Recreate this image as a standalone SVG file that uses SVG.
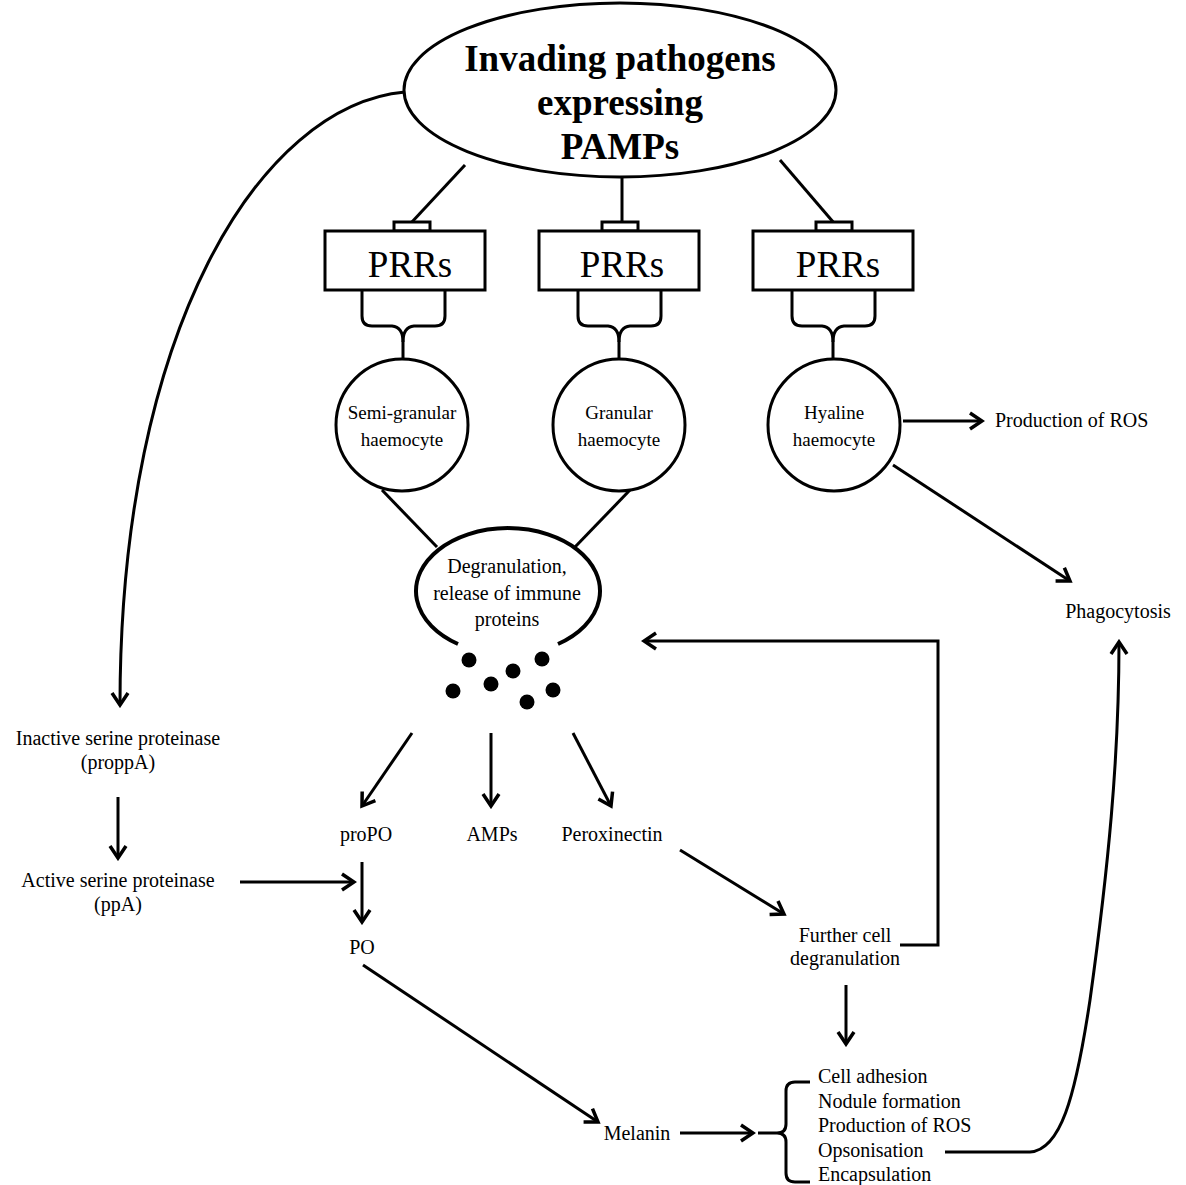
<svg xmlns="http://www.w3.org/2000/svg" width="1186" height="1185" viewBox="0 0 1186 1185">
<defs>
<style>
text{font-family:"Liberation Serif","Times New Roman",serif;fill:#000}
.t{font-size:20px;text-anchor:middle}
.c{font-size:19px;text-anchor:middle}
.tl{font-size:20px}
.big{font-size:37px;font-weight:bold;text-anchor:middle}
.prr{font-size:37px;text-anchor:middle}
.s{fill:none;stroke:#000;stroke-width:3}
.a{fill:none;stroke:#000;stroke-width:3;marker-end:url(#ah)}
.box{fill:#fff;stroke:#000;stroke-width:3}
.dot{fill:#000}
</style>
<marker id="ah" markerUnits="userSpaceOnUse" markerWidth="20" markerHeight="20" viewBox="0 0 20 20" refX="17" refY="10" orient="auto">
<path d="M5,2 L17,10 L5,18" fill="none" stroke="#000" stroke-width="3.5"/>
</marker>
</defs>
<rect width="1186" height="1185" fill="#fff"/>

<g id="connectors">
<line class="s" x1="465" y1="165" x2="411" y2="223"/>
<line class="s" x1="622" y1="176" x2="622" y2="223"/>
<line class="s" x1="780" y1="160" x2="834" y2="223"/>
<path class="s" d="M362,291 V316 Q362,326 372,326 H392 Q403,327 403,342 V360"/>
<path class="s" d="M445,291 V316 Q445,326 435,326 H414 Q403,327 403,342"/>
<path class="s" d="M578,291 V316 Q578,326 588,326 H608 Q619,327 619,342 V360"/>
<path class="s" d="M661,291 V316 Q661,326 651,326 H630 Q619,327 619,342"/>
<path class="s" d="M792,291 V316 Q792,326 802,326 H822 Q833,327 833,342 V360"/>
<path class="s" d="M875,291 V316 Q875,326 865,326 H844 Q833,327 833,342"/>
<line class="s" x1="382" y1="490" x2="437" y2="547"/>
<line class="s" x1="630" y1="490" x2="575" y2="547"/>
<line class="a" x1="903" y1="421" x2="982" y2="421"/>
<line class="a" x1="893" y1="465" x2="1070" y2="581"/>
<path class="a" d="M405,92 C260,105 120,330 120,705"/>
<line class="a" x1="412" y1="733" x2="362" y2="806"/>
<line class="a" x1="491" y1="733" x2="491" y2="806"/>
<line class="a" x1="573" y1="733" x2="611" y2="806"/>
<line class="a" x1="362" y1="862" x2="362" y2="922"/>
<line class="a" x1="118" y1="797" x2="118" y2="858"/>
<line class="a" x1="240" y1="882" x2="354" y2="882"/>
<line class="a" x1="680" y1="850" x2="784" y2="914"/>
<path class="a" d="M900,945 H938 V641 H644"/>
<line class="a" x1="846" y1="985" x2="846" y2="1044"/>
<line class="a" x1="363" y1="965" x2="598" y2="1122"/>
<line class="a" x1="680" y1="1133" x2="753" y2="1133"/>
<path class="s" d="M810,1082 H795 Q786,1082 786,1091 V1124 Q786,1133 777,1133 H758 M777,1133 Q786,1133 786,1142 V1173 Q786,1182 795,1182 H810"/>
<path class="a" d="M945,1152 H1030 C1060,1150 1075,1100 1090,1000 C1108,870 1119,760 1119,642"/>
</g>

<g id="pathogens">
<ellipse class="box" cx="620" cy="90" rx="216" ry="87"/>
<text class="big" x="620" y="71">Invading pathogens</text>
<text class="big" x="620" y="115">expressing</text>
<text class="big" x="620" y="159">PAMPs</text>
</g>

<g id="prr1">
<rect class="box" x="394" y="222" width="36" height="9"/>
<rect class="box" x="325" y="231" width="160" height="59"/>
<text class="prr" x="410" y="277">PRRs</text>
</g>
<g id="prr2">
<rect class="box" x="602" y="222" width="36" height="9"/>
<rect class="box" x="539" y="231" width="160" height="59"/>
<text class="prr" x="622" y="277">PRRs</text>
</g>
<g id="prr3">
<rect class="box" x="816" y="222" width="36" height="9"/>
<rect class="box" x="753" y="231" width="160" height="59"/>
<text class="prr" x="838" y="277">PRRs</text>
</g>

<g id="semi">
<circle class="box" cx="402" cy="425" r="66"/>
<text class="c" x="402" y="419">Semi-granular</text>
<text class="c" x="402" y="446">haemocyte</text>
</g>
<g id="granular">
<circle class="box" cx="619" cy="425" r="66"/>
<text class="c" x="619" y="419">Granular</text>
<text class="c" x="619" y="446">haemocyte</text>
</g>
<g id="hyaline">
<circle class="box" cx="834" cy="425" r="66"/>
<text class="c" x="834" y="419">Hyaline</text>
<text class="c" x="834" y="446">haemocyte</text>
</g>

<g id="degranulation">
<path d="M458,644 A92 63 0 1 1 558,644" fill="#fff" stroke="#000" stroke-width="4"/>
<text class="t" x="507" y="573">Degranulation,</text>
<text class="t" x="507" y="600">release of immune</text>
<text class="t" x="507" y="626">proteins</text>
<circle class="dot" cx="469" cy="660" r="7.5"/>
<circle class="dot" cx="513" cy="671" r="7.5"/>
<circle class="dot" cx="542" cy="659" r="7.5"/>
<circle class="dot" cx="453" cy="691" r="7.5"/>
<circle class="dot" cx="491" cy="684" r="7.5"/>
<circle class="dot" cx="553" cy="690" r="7.5"/>
<circle class="dot" cx="527" cy="702" r="7.5"/>
</g>

<g id="ros1"><text class="tl" x="995" y="427">Production of ROS</text></g>
<g id="phagocytosis"><text class="t" x="1118" y="618">Phagocytosis</text></g>
<g id="inactive">
<text class="t" x="118" y="745">Inactive serine proteinase</text>
<text class="t" x="118" y="769">(proppA)</text>
</g>
<g id="active">
<text class="t" x="118" y="887">Active serine proteinase</text>
<text class="t" x="118" y="911">(ppA)</text>
</g>
<g id="propo"><text class="t" x="366" y="841">proPO</text></g>
<g id="amps"><text class="t" x="492" y="841">AMPs</text></g>
<g id="peroxinectin"><text class="t" x="612" y="841">Peroxinectin</text></g>
<g id="po"><text class="t" x="362" y="954">PO</text></g>
<g id="further">
<text class="t" x="845" y="942">Further cell</text>
<text class="t" x="845" y="965">degranulation</text>
</g>
<g id="melanin"><text class="t" x="637" y="1140">Melanin</text></g>
<g id="responses">
<text class="tl" x="818" y="1083">Cell adhesion</text>
<text class="tl" x="818" y="1108">Nodule formation</text>
<text class="tl" x="818" y="1132">Production of ROS</text>
<text class="tl" x="818" y="1157">Opsonisation</text>
<text class="tl" x="818" y="1181">Encapsulation</text>
</g>
</svg>
